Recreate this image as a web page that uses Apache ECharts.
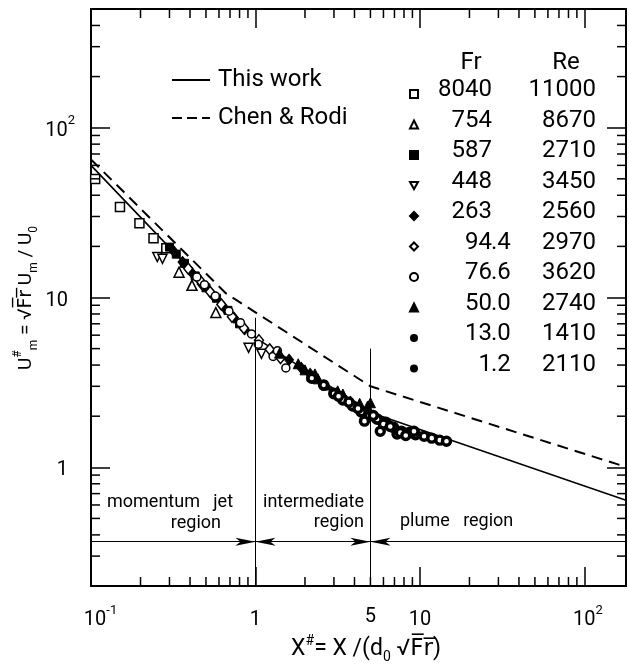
<!DOCTYPE html>
<html>
<head>
<meta charset="utf-8">
<title>Centreline velocity decay</title>
<script src="https://cdn.jsdelivr.net/npm/echarts@6/dist/echarts.min.js"></script>
<style>
  html, body { margin: 0; padding: 0; background: #fff; }
  #chart { width: 629px; height: 668px; }
</style>
</head>
<body>
<div id="chart"></div>
<script>
var FONT = 'Roboto, "DejaVu Sans", sans-serif';
var X_MIN = 0.1, X_MAX = 179, Y_MIN = 0.2, Y_MAX = 500;

// correlation curves (X#, U#m)
var workX = [0.1, 1, 5, 179];
var workU = [60, 5.8, 2.1, 0.64];
var chenX = [0.1, 0.66, 5, 160, 179];
var chenU = [65, 10.6, 3.0, 1.04, 1.0];

// measurements, one array per run
var fr8040 = [[0.106, 49.9], [0.150, 34.1], [0.197, 27.4], [0.240, 22.3], [0.287, 19.5]];
var fr754 = [[0.343, 14.1], [0.411, 11.8], [0.574, 8.15]];
var fr587 = [[0.30, 19.8], [0.33, 18.0], [0.37, 15.9], [0.43, 13.4], [0.50, 11.4], [0.58, 9.9], [0.68, 8.4], [0.80, 7.0]];
var fr448 = [[0.253, 17.3], [0.272, 16.9], [0.908, 5.06], [1.087, 4.66]];
var fr263 = [[0.32, 18.6], [0.36, 16.2], [0.41, 14.0], [0.47, 12.0], [0.55, 10.3], [0.64, 8.8], [0.74, 7.6], [0.86, 6.5], [1.6, 4.3], [1.9, 3.85], [2.15, 3.55]];
var fr94 = [[0.39, 14.8], [0.46, 12.6], [0.53, 10.8], [0.62, 9.1], [0.72, 7.7], [0.85, 6.6], [1.05, 5.6], [1.22, 4.95], [1.42, 4.4]];
var fr76 = [[0.44, 13.2], [0.49, 11.9], [0.57, 10.2], [0.69, 8.3], [0.81, 7.1], [0.946, 6.1], [1.04, 5.3], [1.28, 4.5], [1.53, 3.85], [1.36, 4.85]];
var fr50 = [[1.4, 4.7], [1.82, 4.07], [2.0, 3.75], [2.3, 3.55], [2.4, 3.32], [2.7, 3.05], [3.16, 2.82], [3.4, 2.7], [3.78, 2.46], [4.3, 2.38], [4.8, 2.29], [5.0, 2.4]];
var fr13 = [[2.2, 3.35], [2.6, 3.05], [3.0, 2.72], [3.4, 2.5], [3.9, 2.3], [4.4, 2.12], [4.9, 2.0], [5.5, 1.92], [6.2, 1.84], [6.9, 1.72], [7.7, 1.63], [8.6, 1.6], [9.4, 1.56]];
var fr1_2 = [[3.2, 2.62], [3.7, 2.42], [4.2, 2.22], [4.6, 1.87], [5.2, 2.02], [5.74, 1.63], [6.0, 1.8], [6.6, 1.74], [7.26, 1.57], [7.6, 1.6], [8.2, 1.54], [9.2, 1.63], [10.6, 1.525], [11.8, 1.485], [13.2, 1.445], [14.5, 1.425]];

// legend table
var frLabels = ['8040', '754', '587', '448', '263', '94.4', '76.6', '50.0', '13.0', '1.2'];
var reLabels = ['11000', '8670', '2710', '3450', '2560', '2970', '3620', '2740', '1410', '2110'];

// region boundaries
var regionX = [1, 5];
var regionTop = [7.6, 5.0];
var arrowY = 0.365;
var arrowFrom = [[0.716, 1], [1.34, 1], [3.63, 5], [6.78, 5]];

// minor ticks (2..9 of every decade) and extra label
var minorBase = [2, 3, 4, 5, 6, 7, 8, 9];
var decades = [0.1, 1, 10, 100];
var extraXLabels = [5];

var xMinor = [], yMinor = [];
decades.forEach(function (d) {
  minorBase.forEach(function (k) {
    var v = +(k * d).toPrecision(3);
    if (v < X_MAX) xMinor.push(v);
    if (v > Y_MIN && v < Y_MAX) yMinor.push(v);
  });
});

var DOWN_TRI = 'path://M0,0L10,0L5,9Z';

var runData = [fr8040, fr754, fr587, fr448, fr263, fr94, fr76, fr50, fr13, fr1_2];
var runSymbol = ['rect', 'triangle', 'rect', DOWN_TRI, 'diamond', 'diamond', 'circle', 'triangle', 'circle', 'circle'];
var runSize = [9, 10, 8, 9, [9, 11], [9, 11], 8, 10, 8, 8];
var runFilled = [false, false, true, false, true, false, false, true, false, false];
var runBorder = [1.5, 1.5, 1, 1.5, 1, 1.5, 1.5, 1, 3.8, 3.4];
var runLegendSolid = [false, false, false, false, false, false, false, false, true, true];

var ROW0 = 90, ROW_STEP = 30.5;

function isPow10(v) {
  var l = Math.log10(v);
  return Math.abs(l - Math.round(l)) < 1e-6;
}

function txt(x, y, s, size, align) {
  return { type: 'text', x: x, y: y, style: {
    text: s, font: size + 'px ' + FONT, fill: '#000',
    textAlign: align, align: align, textVerticalAlign: 'middle', verticalAlign: 'middle'
  } };
}

var chart = echarts.init(document.getElementById('chart'));

var series = [
  {
    name: 'This work', type: 'line', symbol: 'none', z: 2,
    data: workX.map(function (x, i) { return [x, workU[i]]; }),
    lineStyle: { color: '#000', width: 1.6 }, itemStyle: { color: '#000' }
  },
  {
    name: 'Chen & Rodi', type: 'line', symbol: 'none', z: 2,
    data: chenX.map(function (x, i) { return [x, chenU[i]]; }),
    lineStyle: { color: '#000', width: 2, type: [11, 7] }, itemStyle: { color: '#000' }
  },
  {
    // region boundaries and arrows
    name: 'regions', type: 'line', data: [], silent: true, z: 1,
    markLine: {
      silent: true, symbol: 'none', animation: false,
      label: { show: false },
      lineStyle: { color: '#000', width: 1, type: 'solid' },
      data: regionX.map(function (x, i) {
        return [{ coord: [x, Y_MIN] }, { coord: [x, regionTop[i]] }];
      }).concat([[{ coord: [X_MIN, arrowY] }, { coord: [X_MAX, arrowY] }]])
        .concat(arrowFrom.map(function (a) {
          return [{ coord: [a[0], arrowY], symbol: 'none' }, { coord: [a[1], arrowY], symbol: 'arrow', symbolSize: [6, 20] }];
        }))
    }
  },
  {
    // minor ticks on all four sides
    name: 'ticks', type: 'custom', silent: true, clip: false, z: 5,
    data: xMinor.map(function (v) { return [v, Y_MIN, 0]; })
      .concat(yMinor.map(function (v) { return [X_MIN, v, 1]; })),
    renderItem: function (params, api) {
      var cs = params.coordSys;
      var p = api.coord([api.value(0), api.value(1)]);
      var len = 9;
      var st = { stroke: '#000', lineWidth: 1.5 };
      if (api.value(2) === 0) {
        var b = cs.y + cs.height;
        return { type: 'group', children: [
          { type: 'line', shape: { x1: p[0], y1: b, x2: p[0], y2: b - len }, style: st },
          { type: 'line', shape: { x1: p[0], y1: cs.y, x2: p[0], y2: cs.y + len }, style: st }
        ] };
      }
      var r = cs.x + cs.width;
      return { type: 'group', children: [
        { type: 'line', shape: { x1: cs.x, y1: p[1], x2: cs.x + len, y2: p[1] }, style: st },
        { type: 'line', shape: { x1: r, y1: p[1], x2: r - len, y2: p[1] }, style: st }
      ] };
    }
  },
  {
    // label "5" on the x axis
    name: 'xlabel5', type: 'custom', silent: true, clip: false,
    data: extraXLabels.map(function (v) { return [v, Y_MIN]; }),
    renderItem: function (params, api) {
      var p = api.coord([api.value(0), api.value(1)]);
      return { type: 'text', x: p[0], y: p[1] + 31, style: {
        text: String(api.value(0)), fill: '#000', font: '20px ' + FONT,
        textAlign: 'center', textVerticalAlign: 'middle', align: 'center', verticalAlign: 'middle'
      } };
    }
  }
];

runData.forEach(function (d, i) {
  series.push({
    name: 'run' + i, type: 'scatter', data: d, z: 3,
    symbol: runSymbol[i], symbolSize: runSize[i],
    itemStyle: {
      color: runFilled[i] ? '#000' : '#fff',
      borderColor: '#000', borderWidth: runBorder[i], opacity: 1
    }
  });
});

// legend table text: header, Fr (aligned on the decimal point), Re
var tableText = [txt(471, 63, 'Fr', 24, 'center'), txt(566, 63, 'Re', 24, 'center')];
frLabels.forEach(function (s, i) {
  var y = ROW0 + i * ROW_STEP;
  var parts = s.split('.');
  tableText.push(txt(492, y, parts[0], 24, 'right'));
  if (parts.length > 1) tableText.push(txt(491, y, '.' + parts[1], 24, 'left'));
  tableText.push(txt(596, y, reLabels[i], 24, 'right'));
});

var xLabelRich = {
  b: { fontSize: 20, fontFamily: FONT, color: '#000', lineHeight: 26, verticalAlign: 'bottom' },
  sup: { fontSize: 13, fontFamily: FONT, color: '#000', lineHeight: 26, verticalAlign: 'top' },
  pad: { width: 19 },
  pad2: { width: 7 }
};

var nameRich = {
  t: { fontFamily: FONT, fontSize: 23, lineHeight: 30, verticalAlign: 'middle', fill: '#000' },
  sup: { fontFamily: FONT, fontSize: 14, lineHeight: 30, verticalAlign: 'top', fill: '#000' },
  sub: { fontFamily: FONT, fontSize: 14, lineHeight: 30, verticalAlign: 'bottom', fill: '#000' }
};

var option = {
  animation: false,
  backgroundColor: '#fff',
  grid: { left: 91, top: 9, right: -2, bottom: 82, containLabel: false },
  xAxis: [
    {
      type: 'log', logBase: 10, min: X_MIN, max: X_MAX, position: 'bottom',
      axisLine: { lineStyle: { color: '#000', width: 2 } },
      axisTick: { inside: true, length: 19, lineStyle: { color: '#000', width: 1.5 } },
      splitLine: { show: false },
      axisLabel: {
        margin: 18, color: '#000', rich: xLabelRich,
        formatter: function (v) {
          if (!isPow10(v)) return '';
          var e = Math.round(Math.log10(v));
          if (e === 0) return '{b|1}';
          if (e === 1) return '{b|10}';
          if (e < 0) return '{pad|}{b|10}{sup|' + e + '}';
          return '{pad2|}{b|10}{sup|' + e + '}';
        }
      }
    },
    {
      type: 'log', logBase: 10, min: X_MIN, max: X_MAX, position: 'top',
      axisLine: { lineStyle: { color: '#000', width: 2 } },
      axisTick: { inside: true, length: 19, lineStyle: { color: '#000', width: 1.5 } },
      splitLine: { show: false }, axisLabel: { show: false }
    }
  ],
  yAxis: [
    {
      type: 'log', logBase: 10, min: Y_MIN, max: Y_MAX, position: 'left',
      axisLine: { lineStyle: { color: '#000', width: 2 } },
      axisTick: { inside: true, length: 19, lineStyle: { color: '#000', width: 1.5 } },
      splitLine: { show: false },
      axisLabel: {
        margin: 16, color: '#000', align: 'right',
        rich: { b: xLabelRich.b, sup: xLabelRich.sup, tail: { width: 7 } },
        formatter: function (v) {
          if (!isPow10(v)) return '';
          var e = Math.round(Math.log10(v));
          if (e === 0) return '{b|1}{tail|}';
          if (e === 1) return '{b|10}{tail|}';
          return '{b|10}{sup|' + e + '}';
        }
      }
    },
    {
      type: 'log', logBase: 10, min: Y_MIN, max: Y_MAX, position: 'right',
      axisLine: { lineStyle: { color: '#000', width: 2 } },
      axisTick: { inside: true, length: 19, lineStyle: { color: '#000', width: 1.5 } },
      splitLine: { show: false }, axisLabel: { show: false }
    }
  ],
  legend: [
    {
      data: [
        { name: 'This work', icon: 'path://M0,0H38V2H0Z' },
        { name: 'Chen & Rodi', icon: 'path://M0,0H10V2H0Z M15,0H25V2H15Z M30,0H38V2H30Z' }
      ],
      orient: 'vertical', left: 172, top: 68,
      padding: 0, itemWidth: 38, itemHeight: 2, itemGap: 14, selectedMode: false,
      itemStyle: { color: '#000' },
      textStyle: { fontFamily: FONT, fontSize: 24, color: '#000', lineHeight: 24, padding: [0, 0, 0, 3] }
    },
    {
      data: runData.map(function (d, i) {
        return runLegendSolid[i]
          ? { name: 'run' + i, itemStyle: { color: '#000', borderWidth: 0 } }
          : { name: 'run' + i };
      }),
      orient: 'vertical', left: 409, top: ROW0 - ROW_STEP / 2 + 4, padding: 0,
      itemWidth: 8, itemHeight: 8, itemGap: 0, selectedMode: false,
      formatter: function () { return ' '; },
      textStyle: { fontFamily: FONT, fontSize: 8, lineHeight: ROW_STEP, color: '#000' }
    }
  ],
  graphic: tableText.concat([
    txt(107, 502, 'momentum   jet', 18, 'left'),
    txt(221, 523, 'region', 18, 'right'),
    txt(263, 502, 'intermediate', 18, 'left'),
    txt(364, 522, 'region', 18, 'right'),
    txt(400, 521, 'plume   region', 18, 'left'),
    {
      type: 'text', x: 366, y: 649,
      style: {
        text: '{t|X}{sup|#}{t|= X /(d}{sub|0}{t| \u221AF\u0305r\u0305)}',
        textAlign: 'center', textVerticalAlign: 'middle', align: 'center', verticalAlign: 'middle', fill: '#000',
        rich: nameRich
      }
    },
    {
      type: 'text', x: 26, y: 298, rotation: Math.PI / 2,
      style: {
        text: '{t|U}{sup|#}{sub|m}{t| = \u221AF\u0305r\u0305 U}{sub|m}{t| / U}{sub|0}',
        textAlign: 'center', textVerticalAlign: 'middle', align: 'center', verticalAlign: 'middle', fill: '#000',
        rich: {
          t: { fontFamily: FONT, fontSize: 19, lineHeight: 28, verticalAlign: 'middle', fill: '#000' },
          sup: { fontFamily: FONT, fontSize: 12, lineHeight: 28, verticalAlign: 'top', fill: '#000' },
          sub: { fontFamily: FONT, fontSize: 12, lineHeight: 28, verticalAlign: 'bottom', fill: '#000' }
        }
      }
    }
  ]),
  series: series
};

chart.setOption(option);
</script>
</body>
</html>
